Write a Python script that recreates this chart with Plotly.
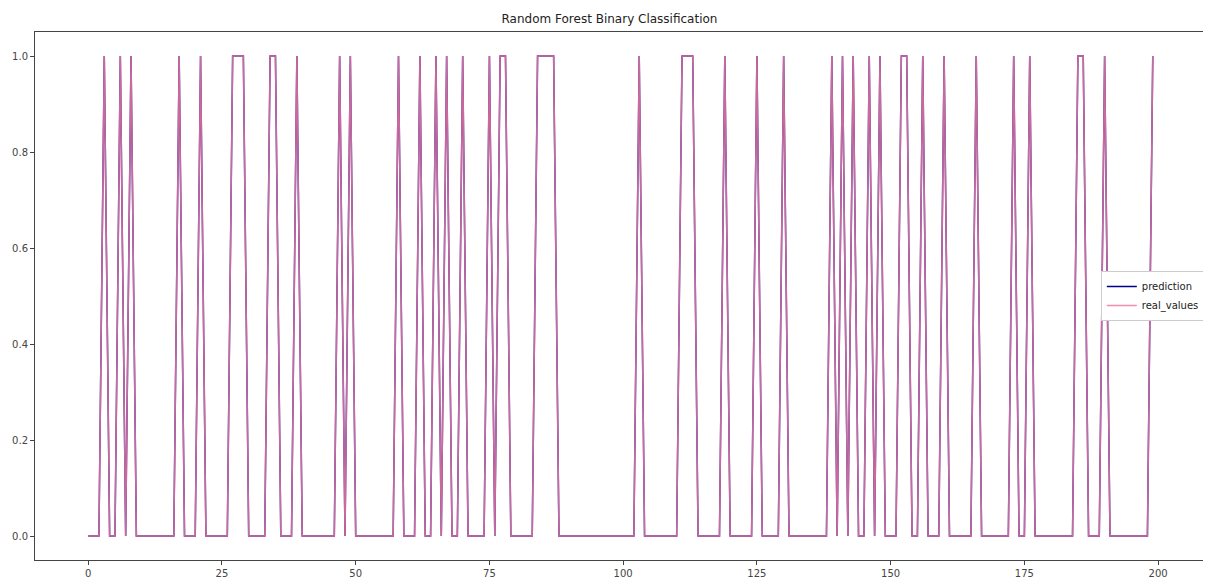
import plotly.graph_objects as go

index = list(range(200))

real_values = [
    0, 0, 0, 1, 0, 0, 1, 0, 1, 0,
    0, 0, 0, 0, 0, 0, 0, 1, 0, 0,
    0, 1, 0, 0, 0, 0, 0, 1, 1, 1,
    0, 0, 0, 0, 1, 1, 0, 0, 0, 1,
    0, 0, 0, 0, 0, 0, 0, 1, 0, 1,
    0, 0, 0, 0, 0, 0, 0, 0, 1, 0,
    0, 0, 1, 0, 0, 1, 0, 1, 0, 0,
    1, 0, 0, 0, 0, 1, 0, 1, 1, 0,
    0, 0, 0, 0, 1, 1, 1, 1, 0, 0,
    0, 0, 0, 0, 0, 0, 0, 0, 0, 0,
    0, 0, 0, 1, 0, 0, 0, 0, 0, 0,
    0, 1, 1, 1, 0, 0, 0, 0, 0, 1,
    0, 0, 0, 0, 0, 1, 0, 0, 0, 0,
    1, 0, 0, 0, 0, 0, 0, 0, 0, 1,
    0, 1, 0, 1, 0, 0, 1, 0, 1, 0,
    0, 0, 1, 1, 0, 0, 1, 0, 0, 0,
    1, 0, 0, 0, 0, 0, 1, 0, 0, 0,
    0, 0, 0, 1, 0, 0, 1, 0, 0, 0,
    0, 0, 0, 0, 0, 1, 1, 0, 0, 0,
    1, 0, 0, 0, 0, 0, 0, 0, 0, 1,
]

prediction = [
    0, 0, 0, 1, 0, 0, 1, 0, 1, 0,
    0, 0, 0, 0, 0, 0, 0, 1, 0, 0,
    0, 1, 0, 0, 0, 0, 0, 1, 1, 1,
    0, 0, 0, 0, 1, 1, 0, 0, 0, 1,
    0, 0, 0, 0, 0, 0, 0, 1, 0, 1,
    0, 0, 0, 0, 0, 0, 0, 0, 1, 0,
    0, 0, 1, 0, 0, 1, 0, 1, 0, 0,
    1, 0, 0, 0, 0, 1, 0, 1, 1, 0,
    0, 0, 0, 0, 1, 1, 1, 1, 0, 0,
    0, 0, 0, 0, 0, 0, 0, 0, 0, 0,
    0, 0, 0, 1, 0, 0, 0, 0, 0, 0,
    0, 1, 1, 1, 0, 0, 0, 0, 0, 1,
    0, 0, 0, 0, 0, 1, 0, 0, 0, 0,
    1, 0, 0, 0, 0, 0, 0, 0, 0, 1,
    0, 1, 0, 1, 0, 0, 1, 0, 1, 0,
    0, 0, 1, 1, 0, 0, 1, 0, 0, 0,
    1, 0, 0, 0, 0, 0, 1, 0, 0, 0,
    0, 0, 0, 1, 0, 0, 1, 0, 0, 0,
    0, 0, 0, 0, 0, 1, 1, 0, 0, 0,
    1, 0, 0, 0, 0, 0, 0, 0, 0, 1,
]

x_ticks = [0, 25, 50, 75, 100, 125, 150, 175, 200]
y_ticks = [0.0, 0.2, 0.4, 0.6, 0.8, 1.0]

fig = go.Figure()
fig.add_trace(go.Scatter(
    x=index, y=prediction, mode="lines", name="prediction",
    line=dict(color="#00008b", width=1.5),
))
fig.add_trace(go.Scatter(
    x=index, y=real_values, mode="lines", name="real_values",
    line=dict(color="rgba(238,122,160,0.85)", width=1.5),
))

axis_common = dict(
    showline=True, mirror=True, linecolor="#444444", linewidth=1,
    ticks="outside", ticklen=4, tickcolor="#444444",
    showgrid=False, zeroline=False,
    tickfont=dict(family="DejaVu Sans", size=10, color="#444444"),
)

fig.update_layout(
    width=1203, height=577,
    margin=dict(l=25, r=4, t=24, b=25),
    paper_bgcolor="white", plot_bgcolor="white",
    title=dict(text="Random Forest Binary Classification",
               x=0.5, xanchor="center", y=0.982, yanchor="middle",
               font=dict(family="DejaVu Sans", size=12, color="#222222")),
    xaxis=dict(range=[-9.95, 208.95], tickvals=x_ticks, **axis_common),
    yaxis=dict(range=[-0.05, 1.05], tickvals=y_ticks, tickformat=".1f", **axis_common),
    legend=dict(x=0.999, xanchor="right", y=0.5, yanchor="middle",
                bgcolor="white", bordercolor="#cccccc", borderwidth=1,
                font=dict(family="DejaVu Sans", size=10, color="#222222"),
                itemwidth=30, tracegroupgap=0),
    showlegend=True,
)

fig.write_html("out.html")
